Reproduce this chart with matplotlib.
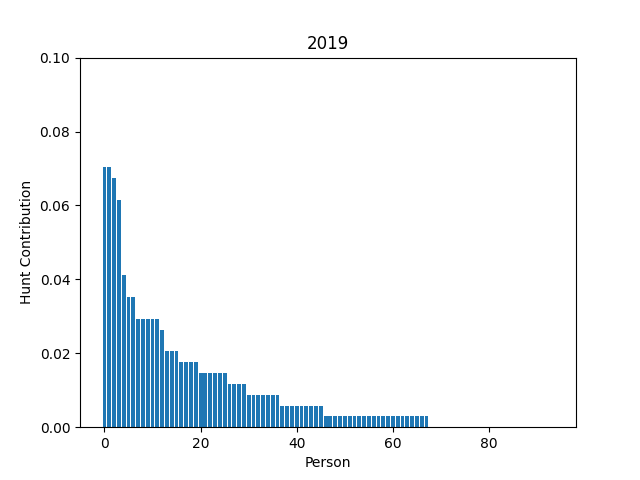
import matplotlib
matplotlib.use('Agg')
import matplotlib.pyplot as plt
import numpy as np

# share counts per person (sorted), 94 people in total
counts = ([24, 24, 23, 21, 14, 12, 12] + [10] * 5 + [9] + [7] * 3 + [6] * 4
          + [5] * 6 + [4] * 4 + [3] * 7 + [2] * 9 + [1] * 22 + [0] * 26)
contribution = np.array(counts) / sum(counts)
persons = np.arange(len(contribution))

fig, ax = plt.subplots(figsize=(6.4, 4.8), dpi=100)
ax.bar(persons, contribution)
ax.set_ylim(0, 0.1)
ax.set_xlabel('Person')
ax.set_ylabel('Hunt Contribution')
ax.set_title('2019')
fig.savefig('out.png')
